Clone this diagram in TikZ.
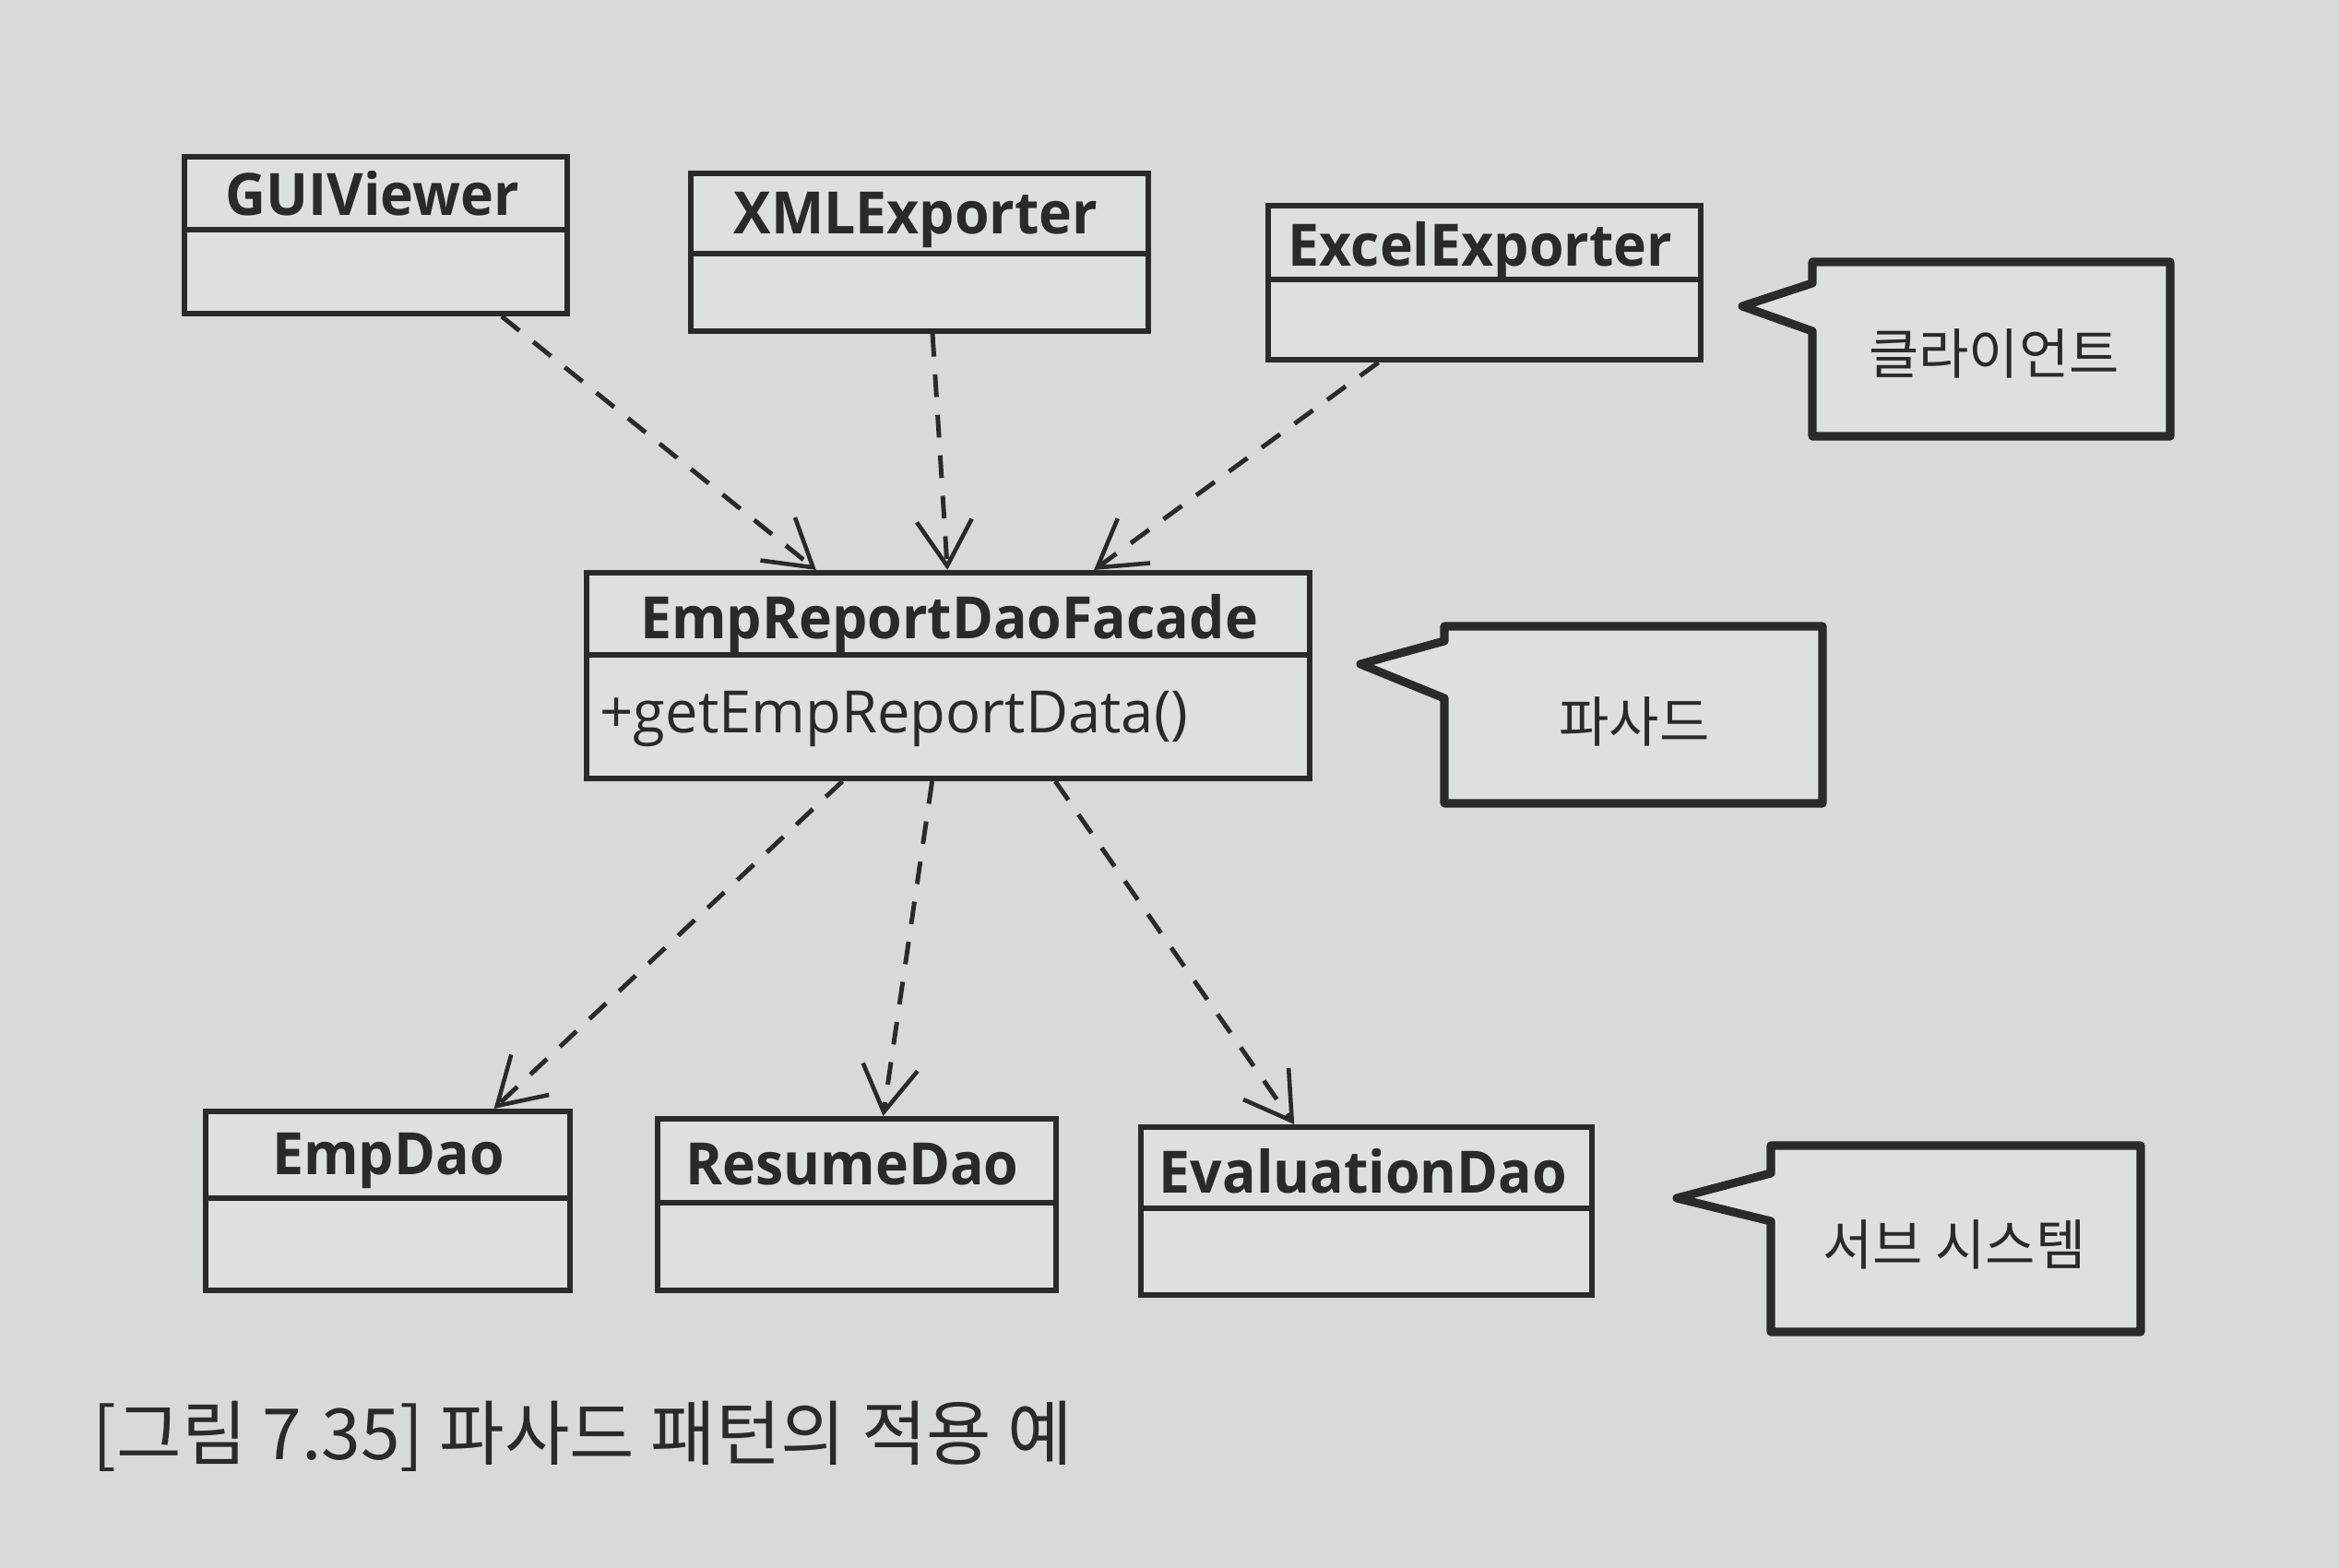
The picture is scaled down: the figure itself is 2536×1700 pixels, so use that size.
\documentclass[tikz,border=0pt]{standalone}
\usepackage{fontspec}
\setmainfont{Open Sans}
\newfontfamily\clsfont{Open Sans}[FakeStretch=0.96]
\newfontfamily\krfont{Noto Sans CJK KR}
\usetikzlibrary{arrows.meta,calc}
\definecolor{bg}{HTML}{D7DAD8}
\definecolor{boxbg}{HTML}{DDE0DE}
\definecolor{ink}{HTML}{2A2A2A}
\tikzset{
  cls/.style={draw=ink, line width=1.7pt, fill=boxbg, inner sep=0pt},
  hdr/.style={draw=ink, line width=1.7pt},
  clstitle/.style={text=ink, font=\clsfont\fontsize{18}{20}\selectfont\bfseries, inner sep=0pt},
  method/.style={text=ink, font=\fontsize{18}{20}\selectfont, inner sep=0pt, anchor=west},
  dep/.style={draw=ink, line width=1.4pt, dash pattern=on 7pt off 5.5pt,
    -{Straight Barb[length=14pt,width=17pt,line width=1.3pt]}},
  callout/.style={draw=ink, line width=2.6pt, line join=round, fill=boxbg},
  note/.style={text=ink, font=\krfont\fontsize{16.8}{19}\selectfont, inner sep=0pt},
  caption/.style={text=ink, font=\krfont\fontsize{21.8}{25}\selectfont, inner sep=0pt, anchor=west}
}
\begin{document}
\begin{tikzpicture}[x=0.01cm,y=-0.01cm]
\fill[bg] (0,0) rectangle (2536,1700);
\useasboundingbox (0,0) rectangle (2536,1700);

% client classes
\node[cls, minimum width=4.15cm, minimum height=1.70cm] (gui) at (407.5,255) {};
\draw[hdr] ($(gui.north west)+(0,82)$) -- ($(gui.north east)+(0,82)$);
\node[clstitle] (guit) at (404,210) {GUIViewer};

\node[cls, minimum width=4.96cm, minimum height=1.71cm] (xml) at (997,273.5) {};
\draw[hdr] ($(xml.north west)+(0,90)$) -- ($(xml.north east)+(0,90)$);
\node[clstitle] (xmlt) at (993,239) {XMLExporter};

\node[cls, minimum width=4.69cm, minimum height=1.67cm] (excel) at (1609.5,306.5) {};
\draw[hdr] ($(excel.north west)+(0,83)$) -- ($(excel.north east)+(0,83)$);
\node[clstitle] (excelt) at (1605,272) {ExcelExporter};

% facade
\node[cls, minimum width=7.84cm, minimum height=2.23cm] (fac) at (1028,732.5) {};
\draw[hdr] ($(fac.north west)+(0,92)$) -- ($(fac.north east)+(0,92)$);
\node[clstitle] (fact) at (1029,676) {EmpReportDaoFacade};
\node[method] (facm) at (650,780) {+getEmpReportData()};

% subsystem classes
\node[cls, minimum width=3.95cm, minimum height=1.94cm] (emp) at (420.5,1302) {};
\draw[hdr] ($(emp.north west)+(0,97)$) -- ($(emp.north east)+(0,97)$);
\node[clstitle] (empt) at (421,1258) {EmpDao};

\node[cls, minimum width=4.32cm, minimum height=1.86cm] (res) at (929,1306) {};
\draw[hdr] ($(res.north west)+(0,94)$) -- ($(res.north east)+(0,94)$);
\node[clstitle] (rest) at (924,1262) {ResumeDao};

\node[cls, minimum width=4.89cm, minimum height=1.82cm] (eva) at (1481.5,1313) {};
\draw[hdr] ($(eva.north west)+(0,91)$) -- ($(eva.north east)+(0,91)$);
\node[clstitle] (evat) at (1478,1270) {EvaluationDao};

% dependencies
\draw[dep] ($(gui.south west)!0.824!(gui.south east)$) -- ($(fac.north west)!0.319!(fac.north east)$);
\draw[dep] ($(xml.south west)!0.528!(xml.south east)$) -- ($(fac.north west)!0.499!(fac.north east)$);
\draw[dep] ($(excel.south west)!0.258!(excel.south east)$) -- ($(fac.north west)!0.700!(fac.north east)$);
\draw[dep] ($(fac.south west)!0.355!(fac.south east)$) -- ($(emp.north west)!0.787!(emp.north east)$);
\draw[dep] ($(fac.south west)!0.478!(fac.south east)$) -- ($(res.north west)!0.565!(res.north east)$);
\draw[dep] ($(fac.south west)!0.647!(fac.south east)$) -- ($(eva.north west)!0.342!(eva.north east)$);

% callouts
\draw[callout] (1965,284) -- (2353,284) -- (2353,473) -- (1965,473) -- (1965,359) -- (1889,332) -- (1965,307) -- cycle;
\node[note] (clientnote) at (2162,383) {클라이언트};

\draw[callout] (1566,679) -- (1976,679) -- (1976,871) -- (1566,871) -- (1566,757) -- (1475,720) -- (1566,695) -- cycle;
\node[note] (facnote) at (1772,782) {파사드};

\draw[callout] (1920,1242) -- (2321,1242) -- (2321,1444) -- (1920,1444) -- (1920,1324) -- (1818,1299) -- (1920,1272) -- cycle;
\node[note] (subnote) at (2119,1349) {서브 시스템};

% caption
\node[caption] (cap) at (100,1557) {[그림 7.35] 파사드 패턴의 적용 예};
\end{tikzpicture}
\end{document}
